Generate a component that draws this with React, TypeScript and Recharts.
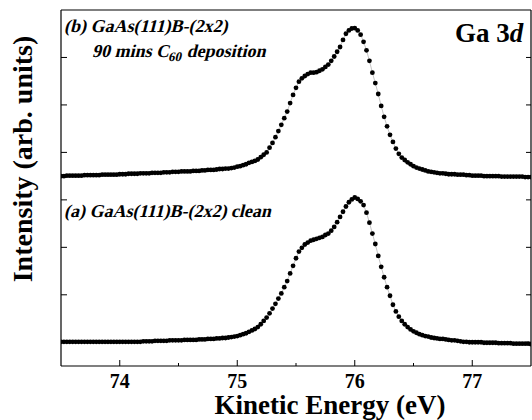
import { LineChart, Line, XAxis, YAxis, Label, ReferenceLine } from "recharts";

// kinetic energy grid of the spectra (eV)
const E_START = 73.5;
const E_STEP = 0.025;

// (b) GaAs(111)B-(2x2) after 90 mins C60 deposition
const depositedCounts = [
  3.5, 3.5, 3.51, 3.51, 3.51, 3.51, 3.51, 3.51, 3.52, 3.52,
  3.52, 3.52, 3.52, 3.52, 3.53, 3.53, 3.53, 3.53, 3.53, 3.53,
  3.54, 3.54, 3.54, 3.55, 3.55, 3.55, 3.55, 3.56, 3.56, 3.56,
  3.56, 3.57, 3.57, 3.57, 3.57, 3.58, 3.58, 3.58, 3.59, 3.59,
  3.59, 3.6, 3.6, 3.6, 3.6, 3.61, 3.61, 3.61, 3.62, 3.62,
  3.63, 3.63, 3.63, 3.64, 3.65, 3.65, 3.66, 3.66, 3.67, 3.68,
  3.7, 3.71, 3.73, 3.75, 3.78, 3.8, 3.82, 3.85, 3.9, 3.95,
  4.0, 4.1, 4.2, 4.32, 4.45, 4.58, 4.72, 4.86, 5.04, 5.21,
  5.36, 5.49, 5.56, 5.61, 5.65, 5.68, 5.68, 5.69, 5.72, 5.75,
  5.8, 5.85, 5.93, 6.02, 6.12, 6.22, 6.37, 6.5, 6.57, 6.61,
  6.62, 6.57, 6.48, 6.33, 6.15, 5.93, 5.68, 5.46, 5.23, 4.98,
  4.75, 4.55, 4.37, 4.22, 4.08, 3.97, 3.89, 3.84, 3.79, 3.75,
  3.71, 3.68, 3.66, 3.64, 3.62, 3.6, 3.59, 3.58, 3.57, 3.56,
  3.56, 3.55, 3.54, 3.54, 3.54, 3.53, 3.53, 3.53, 3.52, 3.52,
  3.51, 3.51, 3.51, 3.51, 3.5, 3.5, 3.5, 3.5, 3.5, 3.5,
  3.49, 3.49, 3.49, 3.49, 3.49, 3.49, 3.49, 3.49, 3.48, 3.48,
  3.48,
];

// (a) GaAs(111)B-(2x2) clean
const cleanCounts = [
  0.01, 0.01, 0.01, 0.01, 0.01, 0.01, 0.01, 0.01, 0.01, 0.01,
  0.01, 0.01, 0.01, 0.01, 0.01, 0.01, 0.01, 0.01, 0.01, 0.01,
  0.01, 0.01, 0.01, 0.01, 0.01, 0.01, 0.01, 0.01, 0.02, 0.02,
  0.02, 0.02, 0.03, 0.03, 0.03, 0.03, 0.03, 0.04, 0.04, 0.04,
  0.04, 0.04, 0.05, 0.05, 0.05, 0.05, 0.05, 0.06, 0.06, 0.06,
  0.07, 0.07, 0.07, 0.08, 0.08, 0.09, 0.09, 0.1, 0.11, 0.12,
  0.13, 0.15, 0.17, 0.19, 0.22, 0.25, 0.28, 0.32, 0.38, 0.45,
  0.52, 0.61, 0.71, 0.81, 0.92, 1.03, 1.16, 1.29, 1.45, 1.61,
  1.77, 1.91, 1.99, 2.06, 2.1, 2.14, 2.16, 2.18, 2.2, 2.22,
  2.26, 2.29, 2.35, 2.43, 2.53, 2.64, 2.75, 2.86, 2.95, 3.01,
  3.05, 3.02, 2.97, 2.89, 2.73, 2.52, 2.29, 2.07, 1.82, 1.59,
  1.37, 1.16, 0.98, 0.79, 0.65, 0.54, 0.45, 0.38, 0.32, 0.27,
  0.23, 0.2, 0.17, 0.15, 0.13, 0.12, 0.1, 0.09, 0.08, 0.07,
  0.07, 0.06, 0.05, 0.04, 0.04, 0.03, 0.02, 0.01, 0.01, 0.0,
  0.0, 0.0, 0.0, 0.0, -0.01, -0.01, -0.01, -0.01, -0.01, -0.02,
  -0.02, -0.02, -0.02, -0.02, -0.03, -0.03, -0.03, -0.03, -0.03, -0.03,
  -0.04,
];

const energyTicks = [74, 74.5, 75, 75.5, 76, 76.5, 77];
const intensityTicks = [0, 1, 2, 3, 4, 5, 6];

const data = cleanCounts.map((v, i) => ({
  energy: +(E_START + i * E_STEP).toFixed(3),
  clean: v,
  deposited: depositedCounts[i],
}));

const serif = "Liberation Serif";

// inward tick marks, labels only on whole eV
const EnergyTick = (props: any) => {
  const { x, y, payload } = props;
  const major = Number.isInteger(payload.value);
  return (
    <g>
      <line x1={x} y1={y} x2={x} y2={y - (major ? 6 : 3)} stroke="#000" strokeWidth={1} />
      {major && (
        <text x={x} y={y + 22} textAnchor="middle" fontFamily={serif} fontWeight="bold" fontSize={20} fill="#000">
          {payload.value}
        </text>
      )}
    </g>
  );
};

const LeftTick = (props: any) => {
  const { x, y } = props;
  return <line x1={x} y1={y} x2={x + 6} y2={y} stroke="#000" strokeWidth={1} />;
};

const RightTick = (props: any) => {
  const { x, y } = props;
  return <line x1={x} y1={y} x2={x - 5} y2={y} stroke="#000" strokeWidth={1} />;
};

const dotStyle = { r: 2.4, fill: "#000", stroke: "none" };

// slanted bold serif, the italic face is not available
const Note = ({ x, y, children }: { x: number; y: number; children: any }) => (
  <g transform={`translate(${x},${y}) skewX(-14)`}>
    <text x={0} y={0} fontFamily={serif} fontWeight="bold" fontSize={18} fill="#000">
      {children}
    </text>
  </g>
);

export default function App() {
  return (
    <div style={{ position: "absolute", left: 0, top: 0, width: 532, height: 420, background: "#fff" }}>
      <LineChart width={532} height={420} data={data} margin={{ top: 10, right: 0, bottom: 0, left: 0 }}>
        <XAxis
          xAxisId="e"
          dataKey="energy"
          type="number"
          domain={[73.5, 77.5]}
          ticks={energyTicks}
          height={54}
          tickSize={0}
          tickMargin={0}
          tickLine={false}
          tick={<EnergyTick />}
          axisLine={{ stroke: "#000", strokeWidth: 1.2 }}
          allowDataOverflow
        >
          <Label
            value="Kinetic Energy (eV)"
            position="insideBottom"
            offset={6}
            dx={34}
            fontFamily={serif}
            fontWeight="bold"
            fontSize={27}
            fill="#000"
          />
        </XAxis>
        <YAxis
          yAxisId="l"
          type="number"
          domain={[-0.5, 7]}
          ticks={intensityTicks}
          width={61}
          tickSize={0}
          tickMargin={0}
          tickLine={false}
          tick={<LeftTick />}
          axisLine={{ stroke: "#000", strokeWidth: 1.2 }}
          allowDataOverflow
        >
          <Label
            value="Intensity (arb. units)"
            angle={-90}
            position="center"
            dx={-8}
            dy={-29}
            fontFamily={serif}
            fontWeight="bold"
            fontSize={28}
            fill="#000"
          />
        </YAxis>
        <YAxis
          yAxisId="r"
          orientation="right"
          type="number"
          domain={[-0.5, 7]}
          ticks={intensityTicks}
          width={1}
          tickSize={0}
          tickMargin={0}
          tickLine={false}
          tick={<RightTick />}
          axisLine={{ stroke: "#000", strokeWidth: 1.2 }}
          allowDataOverflow
        />
        <ReferenceLine xAxisId="e" yAxisId="l" y={7} stroke="#000" strokeWidth={1.2} />
        <Line
          xAxisId="e"
          yAxisId="l"
          dataKey="deposited"
          stroke="#888"
          strokeWidth={0.5}
          dot={dotStyle}
          isAnimationActive={false}
        />
        <Line
          xAxisId="e"
          yAxisId="l"
          dataKey="clean"
          stroke="#888"
          strokeWidth={0.5}
          dot={dotStyle}
          isAnimationActive={false}
        />
        <Note x={64} y={32}>(b) GaAs(111)B-(2x2)</Note>
        <Note x={92} y={57}>
          90 mins C
          <tspan fontSize={13} dy={4}>60</tspan>
          <tspan dy={-4}> deposition</tspan>
        </Note>
        <text x={455} y={42} fontFamily={serif} fontWeight="bold" fontSize={27} fill="#000">
          Ga 3<tspan fontStyle="italic">d</tspan>
        </text>
        <Note x={64} y={217}>(a) GaAs(111)B-(2x2) clean</Note>
      </LineChart>
    </div>
  );
}
